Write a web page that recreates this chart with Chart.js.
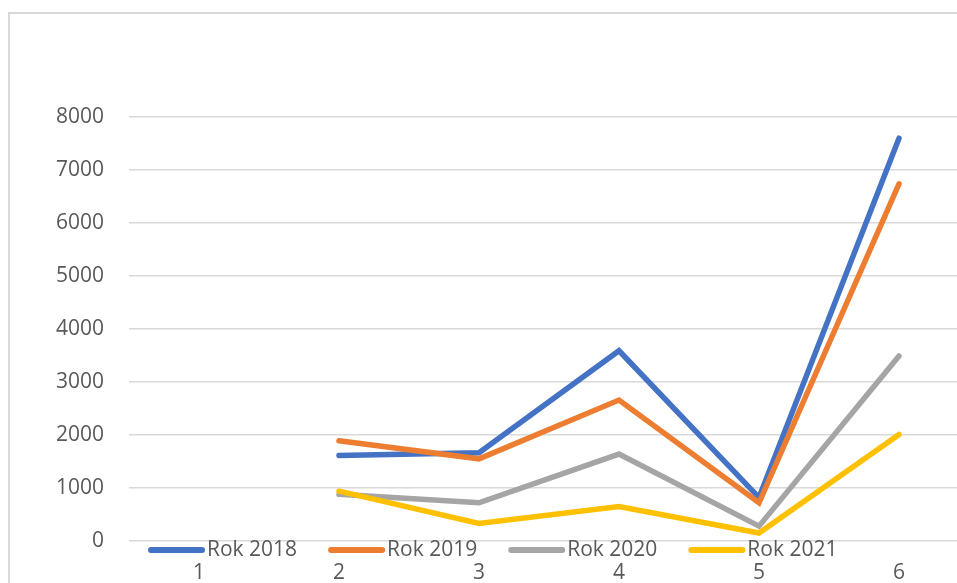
<!DOCTYPE html>
<html>
<head>
<meta charset="utf-8">
<script src="https://cdn.jsdelivr.net/npm/chart.js@4.4.0/dist/chart.umd.min.js"></script>
<style>
  html, body { margin: 0; padding: 0; background: #fff; overflow: hidden; }
  #box {
    position: absolute; left: 8px; top: 12px;
    width: 1000px; height: 600px;
    border: 2px solid #d9d9d9;
  }
</style>
</head>
<body>
<div id="box"><canvas id="myChart" width="1000" height="600"></canvas></div>
<script>
// chart values
var categories = ['1', '2', '3', '4', '5', '6'];
var seriesNames = ['Rok 2018', 'Rok 2019', 'Rok 2020', 'Rok 2021'];
var rok2018 = [null, 1615, 1665, 3590, 820, 7600];
var rok2019 = [null, 1890, 1550, 2660, 720, 6740];
var rok2020 = [null, 880, 720, 1640, 280, 3490];
var rok2021 = [null, 940, 330, 650, 150, 2010];
var yTicks = [0, 1000, 2000, 3000, 4000, 5000, 6000, 7000, 8000];

var colors = ['#4472C4', '#ED7D31', '#A5A5A5', '#FFC000'];
var textColor = '#595959';
var fontFamily = '"Open Sans", sans-serif';

// legend sits inside the gap between the zero line and the category labels
var bottomLegend = {
    id: 'bottomLegend',
    afterDraw: function (chart) {
        var ctx = chart.ctx;
        var x = 138, y = 536;
        ctx.save();
        ctx.font = '21px ' + fontFamily;
        ctx.textBaseline = 'middle';
        chart.data.datasets.forEach(function (ds) {
            ctx.strokeStyle = ds.borderColor;
            ctx.lineWidth = 6;
            ctx.lineCap = 'round';
            ctx.beginPath();
            ctx.moveTo(x + 3, y);
            ctx.lineTo(x + 54, y);
            ctx.stroke();
            ctx.fillStyle = textColor;
            ctx.fillText(ds.label, x + 59, y);
            x += 59 + ctx.measureText(ds.label).width + 31;
        });
        ctx.restore();
    }
};

document.addEventListener('DOMContentLoaded', function () {
    var ctx = document.getElementById('myChart').getContext('2d');
    var allData = [rok2018, rok2019, rok2020, rok2021];
    var myChart = new Chart(ctx, {
        type: 'line',
        data: {
            labels: categories,
            datasets: seriesNames.map(function (name, i) {
                return {
                    label: name,
                    data: allData[i],
                    borderColor: colors[i],
                    backgroundColor: colors[i],
                    borderWidth: 5.5,
                    borderCapStyle: 'round',
                    borderJoinStyle: 'miter',
                    pointRadius: 0,
                    tension: 0,
                    order: seriesNames.length - i   // later years drawn on top
                };
            })
        },
        options: {
            responsive: false,
            animation: false,
            layout: { padding: { top: 103, right: 41, left: 0, bottom: 0 } },
            plugins: {
                legend: { display: false },
                tooltip: { enabled: false }
            },
            scales: {
                x: {
                    offset: true,
                    grid: { display: false, drawTicks: false },
                    border: { display: false },
                    ticks: {
                        color: textColor,
                        font: { family: fontFamily, size: 21 },
                        padding: 19,
                        maxRotation: 0
                    },
                    afterFit: function (scale) { scale.height = 73; }
                },
                y: {
                    min: 0,
                    max: 8000,
                    afterBuildTicks: function (scale) {
                        scale.ticks = yTicks.map(function (v) { return { value: v }; });
                    },
                    grid: { color: '#d9d9d9', lineWidth: 1.5, drawTicks: false },
                    border: { display: false },
                    ticks: {
                        color: textColor,
                        font: { family: fontFamily, size: 21 },
                        padding: 25,
                        callback: function (value) { return String(value); }
                    },
                    afterFit: function (scale) { scale.width = 119; }
                }
            }
        },
        plugins: [bottomLegend]
    });
});
</script>
</body>
</html>
